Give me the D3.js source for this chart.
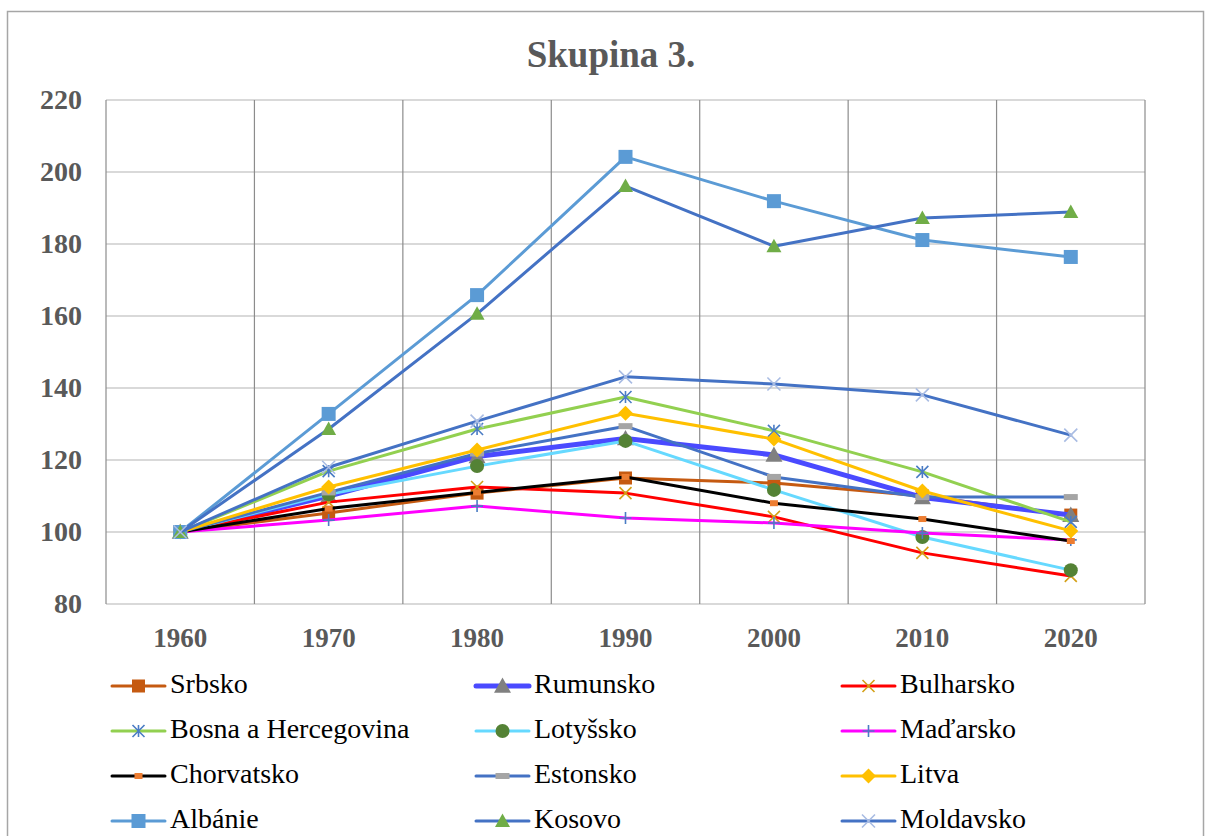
<!DOCTYPE html>
<html><head><meta charset="utf-8">
<script src="https://cdn.jsdelivr.net/npm/d3@7"></script>
<style>body{margin:0;background:#fff}svg{display:block}</style>
</head><body>
<svg id="c" width="1205" height="836"></svg>
<script>
const years = ["1960","1970","1980","1990","2000","2010","2020"];
const yTicks = [80,100,120,140,160,180,200,220];
const srbsko = [100,105.3,110.8,115,113.6,110,104.7];
const rumunsko = [100,110,121,126,121.4,109.6,104.7];
const bulharsko = [100,108.3,112.5,110.8,104.2,94.2,87.8];
const bosna = [100,116.9,128.6,137.5,128.1,116.7,102.8];
const lotyssko = [100,110.5,118.3,125.3,111.7,98.6,89.4];
const madarsko = [100,103.3,107.2,103.9,102.5,99.7,97.8];
const chorvatsko = [100,106.5,111,115.3,108,103.6,97.5];
const estonsko = [100,111,121.8,129.4,115.3,109.7,109.7];
const litva = [100,112.5,122.8,133,125.8,111.4,100.3];
const albanie = [100,132.8,165.8,204.2,191.9,181.1,176.4];
const kosovo = [100,128.6,160.6,196.1,179.4,187.2,188.9];
const moldavsko = [100,118,130.8,143.1,141.1,138.1,126.9];

const series = [
 {name:"Srbsko", v:srbsko, line:"#c55a11", w:3, m:"square", mc:"#c55a11", ms:13},
 {name:"Rumunsko", v:rumunsko, line:"#4a4aff", w:5, m:"triangle", mc:"#808080", ms:17},
 {name:"Bulharsko", v:bulharsko, line:"#ff0000", w:3, m:"x", mc:"#d4a017", ms:12},
 {name:"Bosna a Hercegovina", v:bosna, line:"#92d050", w:3, m:"star", mc:"#4a7cc4", ms:12},
 {name:"Lotyšsko", v:lotyssko, line:"#66d9ff", w:3, m:"circle", mc:"#548235", ms:14},
 {name:"Maďarsko", v:madarsko, line:"#ff00ff", w:3, m:"plus", mc:"#4a7cc4", ms:12},
 {name:"Chorvatsko", v:chorvatsko, line:"#000000", w:3, m:"dash", mc:"#ed7d31", ms:8},
 {name:"Estonsko", v:estonsko, line:"#4472c4", w:3, m:"dash", mc:"#a5a5a5", ms:14},
 {name:"Litva", v:litva, line:"#ffc000", w:3, m:"diamond", mc:"#ffc000", ms:15},
 {name:"Albánie", v:albanie, line:"#5b9bd5", w:3, m:"square", mc:"#5b9bd5", ms:14},
 {name:"Kosovo", v:kosovo, line:"#4472c4", w:3, m:"triangle", mc:"#70ad47", ms:15},
 {name:"Moldavsko", v:moldavsko, line:"#4472c4", w:3, m:"x", mc:"#a9bce3", ms:13}
];

const FONT = "'Liberation Serif', 'Times New Roman', serif";
const svg = d3.select("#c");
const L=106, R=1145, T=100, B=604;
svg.append("rect").attr("x",7.5).attr("y",11.5).attr("width",1196).attr("height",840)
  .attr("fill","#fff").attr("stroke","#a6a6a6").attr("stroke-width",1.5);

svg.append("text").attr("x",611).attr("y",67).attr("text-anchor","middle")
  .attr("font-family",FONT).attr("font-weight","bold").attr("font-size",37)
  .attr("fill","#595959").text("Skupina 3.");

const x = d3.scaleBand().domain(years).range([L,R]);
const y = d3.scaleLinear().domain([80,220]).range([B,T]);

// horizontal grid
svg.append("g").selectAll("line").data(yTicks).join("line")
  .attr("x1",L).attr("x2",R).attr("y1",d=>y(d)).attr("y2",d=>y(d))
  .attr("stroke","#d9d9d9").attr("stroke-width",2);
// vertical grid
const bounds = years.map(d=>x(d)).concat([R]);
svg.append("g").selectAll("line").data(bounds).join("line")
  .attr("x1",d=>d).attr("x2",d=>d).attr("y1",T).attr("y2",B)
  .attr("stroke","#8c8c8c").attr("stroke-width",1.2);

// axes
const yAxis = d3.axisLeft(y).tickValues(yTicks).tickSize(0).tickPadding(24);
const gy = svg.append("g").attr("transform",`translate(${L},0)`).call(yAxis);
gy.select(".domain").remove();
gy.selectAll("text").attr("font-family",FONT).attr("font-weight","bold")
  .attr("font-size",28).attr("fill","#595959").attr("dy","0.3em");
const xAxis = d3.axisBottom(x).tickSize(0);
const gx = svg.append("g").attr("transform",`translate(0,${B})`).call(xAxis);
gx.select(".domain").remove();
gx.selectAll("text").attr("font-family",FONT).attr("font-weight","bold")
  .attr("font-size",27).attr("fill","#595959").attr("y",43).attr("dy",0);

function marker(g, type, cx, cy, s, c){
  const h=s/2;
  if(type==="square") g.append("rect").attr("x",cx-h).attr("y",cy-h).attr("width",s).attr("height",s).attr("fill",c);
  else if(type==="triangle") g.append("path").attr("d",`M${cx},${cy-h}L${cx+h},${cy+h*0.8}L${cx-h},${cy+h*0.8}Z`).attr("fill",c);
  else if(type==="circle") g.append("circle").attr("cx",cx).attr("cy",cy).attr("r",h).attr("fill",c);
  else if(type==="diamond") g.append("path").attr("d",`M${cx},${cy-h}L${cx+h},${cy}L${cx},${cy+h}L${cx-h},${cy}Z`).attr("fill",c);
  else if(type==="x") g.append("path").attr("d",`M${cx-h},${cy-h}L${cx+h},${cy+h}M${cx-h},${cy+h}L${cx+h},${cy-h}`).attr("stroke",c).attr("stroke-width",1.6).attr("fill","none");
  else if(type==="plus") g.append("path").attr("d",`M${cx-h},${cy}L${cx+h},${cy}M${cx},${cy-h}L${cx},${cy+h}`).attr("stroke",c).attr("stroke-width",1.6).attr("fill","none");
  else if(type==="star") g.append("path").attr("d",`M${cx-h},${cy-h}L${cx+h},${cy+h}M${cx-h},${cy+h}L${cx+h},${cy-h}M${cx},${cy-h}L${cx},${cy+h}`).attr("stroke",c).attr("stroke-width",1.6).attr("fill","none");
  else if(type==="dash") g.append("rect").attr("x",cx-h).attr("y",cy-3).attr("width",s).attr("height",6).attr("fill",c);
}

const cx = d=>x(d)+x.bandwidth()/2;
const lineGen = d3.line().x((d,i)=>cx(years[i])).y(d=>y(d));
series.forEach(s=>{
  const g = svg.append("g");
  g.append("path").attr("d",lineGen(s.v)).attr("fill","none").attr("stroke",s.line)
    .attr("stroke-width",s.w).attr("stroke-linejoin","round").attr("stroke-linecap","round");
  s.v.forEach((v,i)=>marker(g,s.m,cx(years[i]),y(v),s.ms,s.mc));
});

// legend
const colX=[112,476,842], rowY=[686,731,776,821];
series.forEach((s,i)=>{
  const lx=colX[i%3], ly=rowY[Math.floor(i/3)];
  const g=svg.append("g");
  g.append("line").attr("x1",lx).attr("x2",lx+53).attr("y1",ly).attr("y2",ly)
    .attr("stroke",s.line).attr("stroke-width",s.w).attr("stroke-linecap","round");
  marker(g,s.m,lx+26.5,ly,s.ms,s.mc);
  g.append("text").attr("x",lx+58).attr("y",ly+7)
    .attr("font-family",FONT).attr("font-size",28).attr("fill","#000").text(s.name);
});
</script>
</body></html>
